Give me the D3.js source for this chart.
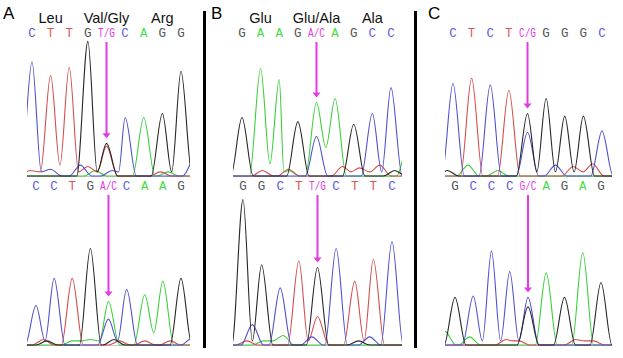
<!DOCTYPE html>
<html>
<head>
<meta charset="utf-8">
<script src="https://cdn.jsdelivr.net/npm/d3@7"></script>
<style>
  body { margin: 0; background: #fff; }
</style>
</head>
<body>
<div id="fig"></div>
<script>
// codon names over the top traces
var codonsA = ["Leu", "Val/Gly", "Arg"];
var codonsB = ["Glu", "Glu/Ala", "Ala"];

// panel A, top trace
var labelsATop  = ["C","T","T","G","T/G","C","A","G","G"];
var callsATop   = ["C","T","T","G","G","C","A","G","G"];
var heightsATop = [84, 74, 80, 99, 24, 43, 43, 46, 77];
var extraATop   = [[4,"T",22], [-0.1,"T",4], [1.0,"C",5], [2.6,"C",8], [3.0,"T",7], [3.4,"A",4], [4.3,"C",4], [6.9,"T",3], [7.3,"A",3], [8.7,"C",12]];
var valleysATop = [[1.5,"T",8]];

// panel A, bottom trace
var labelsABot  = ["C","C","T","G","A/C","C","A","A","G"];
var callsABot   = ["C","C","T","G","A","C","A","A","G"];
var heightsABot = [29, 49, 49, 71, 32, 41, 37, 47, 49];
var extraABot   = [[4,"C",19], [0.4,"T",4], [0.6,"G",3], [2.0,"A",3], [3.0,"A",4], [4.3,"G",4], [4.6,"T",3], [6.0,"T",3], [7.4,"T",3], [8.6,"C",5]];
var valleysABot = [[6.5,"A",9]];

// panel B, top trace
var labelsBTop  = ["G","A","A","G","A/C","A","G","C","C"];
var callsBTop   = ["G","A","A","G","A","A","G","C","C"];
var heightsBTop = [43, 79, 71, 40, 54, 57, 38, 46, 65];
var extraBTop   = [[4,"C",29], [1.1,"T",4], [2.5,"T",5], [2.5,"A",4], [5.4,"T",7], [6.3,"T",6], [7.4,"T",8], [8.2,"G",4], [8.9,"A",22]];
var valleysBTop = [[1.5,"A",9], [4.5,"A",21]];

// panel B, bottom trace
var labelsBBot  = ["G","G","C","T","T/G","C","T","T","C"];
var callsBBot   = ["G","G","C","T","G","C","T","T","C"];
var heightsBBot = [107, 59, 42, 62, 57, 71, 47, 63, 76];
var extraBBot   = [[4,"T",21], [0.5,"C",15], [1.1,"A",3], [2.15,"A",7], [3.7,"C",6], [6.8,"C",6], [6.2,"G",3], [0.2,"T",3]];
var valleysBBot = [];

// panel C, top trace
var labelsCTop  = ["C","T","C","T","C/G","G","G","G","C"];
var callsCTop   = ["C","T","C","T","G","G","G","G","C"];
var heightsCTop = [68, 72, 67, 63, 46, 57, 44, 44, 33];
var extraCTop   = [[4,"C",32], [0.8,"A",8], [-0.3,"G",4], [2.4,"A",4], [5.5,"C",8], [6.45,"T",7], [7.5,"T",9]];
var valleysCTop = [];

// panel C, bottom trace
var labelsCBot  = ["G","C","C","C","G/C","A","G","A","G"];
var callsCBot   = ["G","C","C","C","C","A","G","A","G"];
var heightsCBot = [35, 36, 69, 54, 35, 53, 35, 68, 46];
var extraCBot   = [[4,"G",28], [0.8,"A",6], [-0.55,"A",10], [2.8,"T",4], [3.5,"T",3], [6.6,"T",4], [7.6,"T",3]];
var valleysCBot = [];

var W = 623, H = 358;
var svg = d3.select("#fig").append("svg")
            .attr("width", W)
            .attr("height", H);

var traceColor  = {C: "#5050d0", T: "#d44e4e", G: "#262626", A: "#3ccf3c"};
var letterColor = {C: "#5c5ce0", T: "#d85656", G: "#555555", A: "#45dd45"};
var mixColor = "#e43ae4";

var traces = [
  {labels: labelsATop, calls: callsATop, heights: heightsATop, extra: extraATop, valleys: valleysATop, x0: 32,  x8: 181, xl: 27,  xr: 190, base: 176, letterY: 37,  arrowY: 42},
  {labels: labelsABot, calls: callsABot, heights: heightsABot, extra: extraABot, valleys: valleysABot, x0: 36,  x8: 181, xl: 27,  xr: 190, base: 345, letterY: 190, arrowY: 195},
  {labels: labelsBTop, calls: callsBTop, heights: heightsBTop, extra: extraBTop, valleys: valleysBTop, x0: 242, x8: 391, xl: 233, xr: 402, base: 176, letterY: 37,  arrowY: 42},
  {labels: labelsBBot, calls: callsBBot, heights: heightsBBot, extra: extraBBot, valleys: valleysBBot, x0: 243, x8: 392, xl: 233, xr: 402, base: 345, letterY: 190, arrowY: 195},
  {labels: labelsCTop, calls: callsCTop, heights: heightsCTop, extra: extraCTop, valleys: valleysCTop, x0: 453, x8: 602, xl: 445, xr: 612, base: 176, letterY: 37,  arrowY: 42},
  {labels: labelsCBot, calls: callsCBot, heights: heightsCBot, extra: extraCBot, valleys: valleysCBot, x0: 455, x8: 601, xl: 445, xr: 612, base: 345, letterY: 190, arrowY: 195}
];

// peaks of one dye channel -> points for the line
function channelPoints(t, b) {
  var pk = [];
  t.calls.forEach(function(c, i) { if (c === b) pk.push([i, t.heights[i]]); });
  t.extra.forEach(function(e) { if (e[1] === b) pk.push([e[0], e[2]]); });
  pk.sort(function(p, q) { return p[0] - q[0]; });
  var pts = [[-3, 0]];
  pk.forEach(function(p, k) {
    var prev = pk[k - 1];
    if (!prev || p[0] - prev[0] > 1.2) {
      if (prev) pts.push([prev[0] + 0.6, 0]);
      pts.push([p[0] - 0.6, 0]);
    } else {
      var mid = (prev[0] + p[0]) / 2, v = 3;
      t.valleys.forEach(function(vv) {
        if (vv[1] === b && Math.abs(vv[0] - mid) < 0.3) v = vv[2];
      });
      pts.push([mid, v]);
    }
    pts.push(p);
  });
  if (pk.length) pts.push([pk[pk.length - 1][0] + 0.6, 0]);
  pts.push([11, 0]);
  return pts;
}

var defs = svg.append("defs");

traces.forEach(function(t, ti) {
  var x = d3.scaleLinear().domain([0, 8]).range([t.x0, t.x8]);
  var y = d3.scaleLinear().domain([0, 100]).range([t.base, t.base - 136]);

  defs.append("clipPath").attr("id", "clip" + ti)
      .append("rect")
      .attr("x", t.xl).attr("y", 0)
      .attr("width", t.xr - t.xl).attr("height", H);

  var g = svg.append("g");

  g.append("line")
   .attr("x1", t.xl).attr("x2", t.xr)
   .attr("y1", t.base + 0.5).attr("y2", t.base + 0.5)
   .attr("stroke", "#c8c8c8").attr("stroke-width", 1);

  var line = d3.line()
               .x(function(d) { return x(d[0]); })
               .y(function(d) { return y(d[1]); })
               .curve(d3.curveMonotoneX);

  var tg = g.append("g").attr("clip-path", "url(#clip" + ti + ")");
  ["A", "T", "C", "G"].forEach(function(b) {
    tg.append("path")
      .datum(channelPoints(t, b))
      .attr("d", line)
      .attr("fill", "none")
      .attr("stroke", traceColor[b])
      .attr("stroke-width", 1.1);
  });

  // base calls
  g.selectAll("text.call")
   .data(t.labels)
   .enter()
   .append("text")
   .attr("class", "call")
   .attr("x", function(d, i) { return x(i); })
   .attr("y", t.letterY)
   .attr("text-anchor", "middle")
   .style("font-family", "Liberation Mono, monospace")
   .style("font-size", "12.5px")
   .style("fill", function(d) { return d.length > 1 ? mixColor : letterColor[d]; })
   .text(function(d) { return d; })
   .each(function(d) {
     if (d.length > 1) d3.select(this).attr("textLength", 17).attr("lengthAdjust", "spacingAndGlyphs");
   });

  // arrow to the mixed peak
  var mi = t.labels.findIndex(function(d) { return d.length > 1; });
  var mixH = t.heights[mi];
  t.extra.forEach(function(e) { if (e[0] === mi) mixH = Math.max(mixH, e[2]); });
  var tip = y(mixH) - 5;
  var ax = x(mi);
  g.append("line")
   .attr("x1", ax).attr("x2", ax)
   .attr("y1", t.arrowY).attr("y2", tip - 4)
   .attr("stroke", mixColor).attr("stroke-width", 2);
  g.append("path")
   .attr("d", "M" + (ax - 4) + "," + (tip - 5) + "L" + (ax + 4) + "," + (tip - 5) + "L" + ax + "," + tip + "Z")
   .attr("fill", mixColor);
});

// codon names
function codonRow(names, t) {
  var x = d3.scaleLinear().domain([0, 8]).range([t.x0, t.x8]);
  svg.selectAll(null)
     .data(names)
     .enter()
     .append("text")
     .attr("x", function(d, i) { return x(i * 3 + 1); })
     .attr("y", 23)
     .attr("text-anchor", "middle")
     .style("font-family", "Liberation Sans, Arial, sans-serif")
     .style("font-size", "14.5px")
     .style("fill", "#111")
     .text(function(d) { return d; });
}
codonRow(codonsA, traces[0]);
codonRow(codonsB, traces[2]);

// panel letters
var panelLetters = ["A", "B", "C"];
svg.selectAll("text.panel")
   .data(panelLetters)
   .enter()
   .append("text")
   .attr("class", "panel")
   .attr("x", function(d, i) { return [3, 211, 428][i]; })
   .attr("y", 19)
   .style("font-family", "Liberation Sans, Arial, sans-serif")
   .style("font-size", "17px")
   .style("fill", "#000")
   .text(function(d) { return d; });

// divider bars
[203, 414].forEach(function(bx) {
  svg.append("rect")
     .attr("x", bx).attr("y", 11)
     .attr("width", 3).attr("height", 337)
     .attr("fill", "#000");
});
</script>
</body>
</html>
